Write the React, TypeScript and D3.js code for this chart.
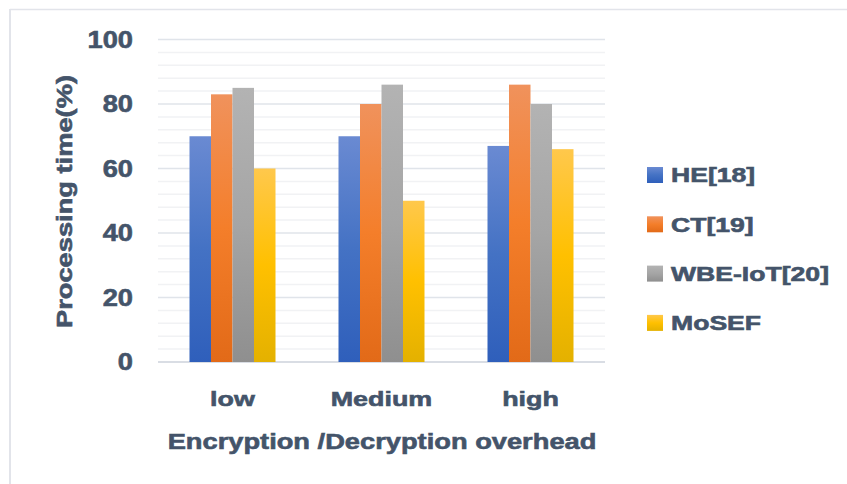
import React from "react";
import * as d3 from "d3";

const categories = ["low", "Medium", "high"];
const seriesNames = ["HE[18]", "CT[19]", "WBE-IoT[20]", "MoSEF"];
const heValues = [70, 70, 67];
const ctValues = [83, 80, 86];
const wbeValues = [85, 86, 80];
const mosefValues = [60, 50, 66];
const yTicks = [0, 20, 40, 60, 80, 100];
const minorTicks = d3.range(0, 101, 4);

const seriesValues = [heValues, ctValues, wbeValues, mosefValues];
const gradients = [
  ["#6a8ad2", "#4472c4", "#2f5fbb"],
  ["#f0925c", "#f47e2a", "#e26a18"],
  ["#b3b3b3", "#a5a5a5", "#8f8f8f"],
  ["#ffc84c", "#ffc000", "#e4b100"],
];

const textColor = "#44546a";
const font = "'Liberation Sans', Arial, sans-serif";

export default function App() {
  const W = 847, H = 484;
  const x0 = d3.scaleBand().domain(categories).range([158, 605]).paddingInner(0).paddingOuter(0);
  const y = d3.scaleLinear().domain([0, 100]).range([362, 39.5]);
  const groupW = 86;
  const x1 = d3.scaleBand().domain(seriesNames).range([0, groupW]).padding(0);

  const txt = (props: any) => (
    <text fontFamily={font} fontWeight="bold" fill={textColor} stroke={textColor} strokeWidth={0.6} {...props} />
  );

  return (
    <svg width={W} height={H} style={{ position: "absolute", left: 0, top: 0, background: "#fff" }}>
      <defs>
        {gradients.map((g, i) => (
          <linearGradient key={i} id={`grad${i}`} x1="0" y1="0" x2="0" y2="1">
            <stop offset="0%" stopColor={g[0]} />
            <stop offset="50%" stopColor={g[1]} />
            <stop offset="100%" stopColor={g[2]} />
          </linearGradient>
        ))}
      </defs>
      {/* border */}
      <line x1={10} x2={W} y1={9.5} y2={9.5} stroke="#e2e4ea" strokeWidth={1.5} />
      <line x1={10} x2={10} y1={9} y2={H} stroke="#e2e4ea" strokeWidth={2} />

      {/* minor gridlines */}
      {minorTicks.filter((t) => t % 20 !== 0).map((t) => (
        <line key={"m" + t} x1={158} x2={605} y1={y(t)} y2={y(t)} stroke="#f1f2f4" strokeWidth={1.5} />
      ))}
      {yTicks.map((t) => (
        <line key={"g" + t} x1={158} x2={605} y1={y(t)} y2={y(t)} stroke={t === 0 ? "#d9dde4" : "#e0e4ea"} strokeWidth={t === 0 ? 2 : 1.5} />
      ))}

      {/* bars */}
      {categories.map((c, ci) => {
        const gx = x0(c)! + (x0.bandwidth() - groupW) / 2;
        return seriesNames.map((s, si) => {
          const v = seriesValues[si][ci];
          return (
            <rect
              key={c + s}
              x={gx + x1(s)!}
              y={y(v)}
              width={x1.bandwidth()}
              height={y(0) - y(v)}
              fill={`url(#grad${si})`}
            />
          );
        });
      })}

      {/* y tick labels */}
      {yTicks.map((t) => (
        <g key={"t" + t} transform={`translate(133,${y(t)}) scale(1.16,1)`}>
          {txt({ x: 0, y: 0, dy: "0.36em", textAnchor: "end", fontSize: 23.5, children: String(t) })}
        </g>
      ))}

      {/* y title */}
      <g transform={`translate(71.5,201.5) rotate(-90) scale(1.24,1)`}>
        {txt({ x: 0, y: 0, textAnchor: "middle", fontSize: 22, children: "Processing time(%)" })}
      </g>

      {/* category labels */}
      {categories.map((c) => (
        <g key={"c" + c} transform={`translate(${x0(c)! + x0.bandwidth() / 2},406) scale(1.28,1)`}>
          {txt({ x: 0, y: 0, textAnchor: "middle", fontSize: 21, children: c })}
        </g>
      ))}

      {/* x title */}
      <g transform={`translate(382,449) scale(1.24,1)`}>
        {txt({ x: 0, y: 0, textAnchor: "middle", fontSize: 22, children: "Encryption /Decryption overhead" })}
      </g>

      {/* legend */}
      {seriesNames.map((s, i) => {
        const cy = 175 + i * 49.3;
        return (
          <g key={"l" + s}>
            <rect x={647} y={cy - 8} width={16} height={16} fill={`url(#grad${i})`} />
            <g transform={`translate(671,${cy}) scale(1.33,1)`}>
              {txt({ x: 0, y: 0, dy: "0.36em", fontSize: 20, children: s })}
            </g>
          </g>
        );
      })}
    </svg>
  );
}
